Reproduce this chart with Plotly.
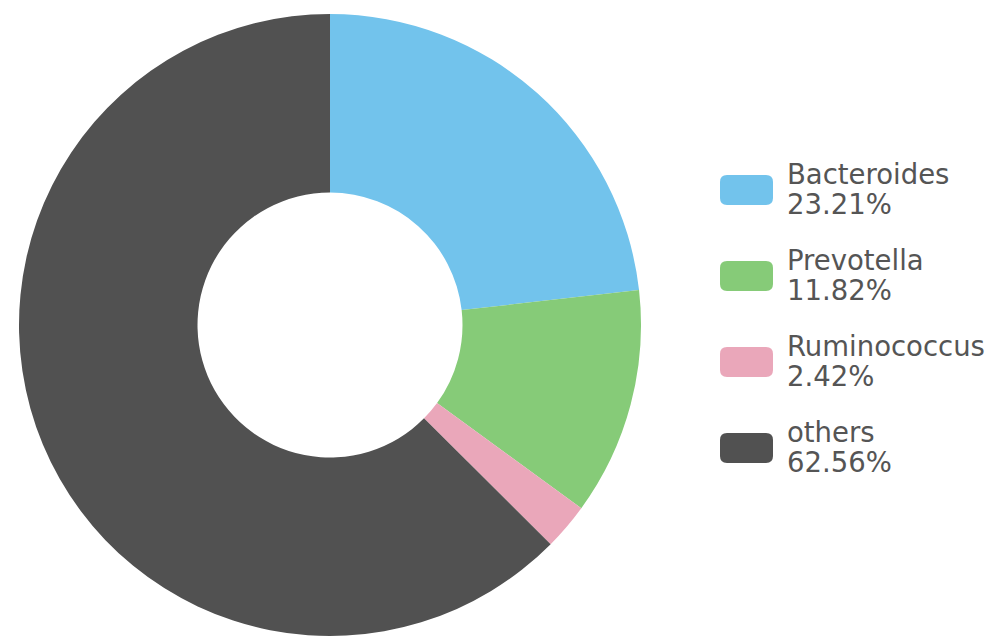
import plotly.graph_objects as go

# ---- data ----
genera = ["Bacteroides", "Prevotella", "Ruminococcus", "others"]
shares = [23.21, 11.82, 2.42, 62.56]
colors = ["#72c3ec", "#86cb78", "#eaa7ba", "#515151"]

W, H = 996, 638
OFF = 8  # page body margin of the browser

# pie geometry (target screen pixels)
cx, cy, r = 330 - OFF, 325 - OFF, 311
hole_frac = 0.426

fig = go.Figure(go.Pie(
    labels=genera,
    values=shares,
    sort=False,
    direction="clockwise",
    rotation=0,
    hole=hole_frac,
    marker=dict(colors=colors, line=dict(width=0)),
    textinfo="none",
    hoverinfo="label+percent",
    showlegend=False,
    domain=dict(x=[(cx - r) / W, (cx + r) / W],
                y=[1 - (cy + r) / H, 1 - (cy - r) / H]),
))

def px(x):
    return (x - OFF) / W

def py(y):
    return 1 - (y - OFF) / H

def rounded_rect(x0, y0, x1, y1, rad):
    X0, X1 = px(x0), px(x1)
    Y0, Y1 = py(y0), py(y1)
    rx, ry = rad / W, rad / H
    return (f"M {X0+rx},{Y0} L {X1-rx},{Y0} Q {X1},{Y0} {X1},{Y0-ry} "
            f"L {X1},{Y1+ry} Q {X1},{Y1} {X1-rx},{Y1} "
            f"L {X0+rx},{Y1} Q {X0},{Y1} {X0},{Y1+ry} "
            f"L {X0},{Y0-ry} Q {X0},{Y0} {X0+rx},{Y0} Z")

shapes = []
annotations = []
row0, pitch = 190, 86
sw_x0, sw_x1, sw_h = 720, 773, 30
text_x = 785
font = dict(family="DejaVu Sans", size=27.5, color="#555555")
for i, (g, s, c) in enumerate(zip(genera, shares, colors)):
    yc = row0 + i * pitch
    shapes.append(dict(type="path", xref="paper", yref="paper",
                       path=rounded_rect(sw_x0, yc - sw_h / 2, sw_x1, yc + sw_h / 2, 7),
                       fillcolor=c, line=dict(width=0)))
    annotations.append(dict(x=px(text_x), y=py(yc - 16), xref="paper", yref="paper",
                            text=g, showarrow=False, xanchor="left", yanchor="middle",
                            font=font))
    annotations.append(dict(x=px(text_x), y=py(yc + 14), xref="paper", yref="paper",
                            text=f"{s:.2f}%", showarrow=False, xanchor="left", yanchor="middle",
                            font=font))

fig.update_layout(
    width=W, height=H,
    margin=dict(l=0, r=0, t=0, b=0),
    paper_bgcolor="white",
    plot_bgcolor="white",
    shapes=shapes,
    annotations=annotations,
)

fig.write_html("out.html")
